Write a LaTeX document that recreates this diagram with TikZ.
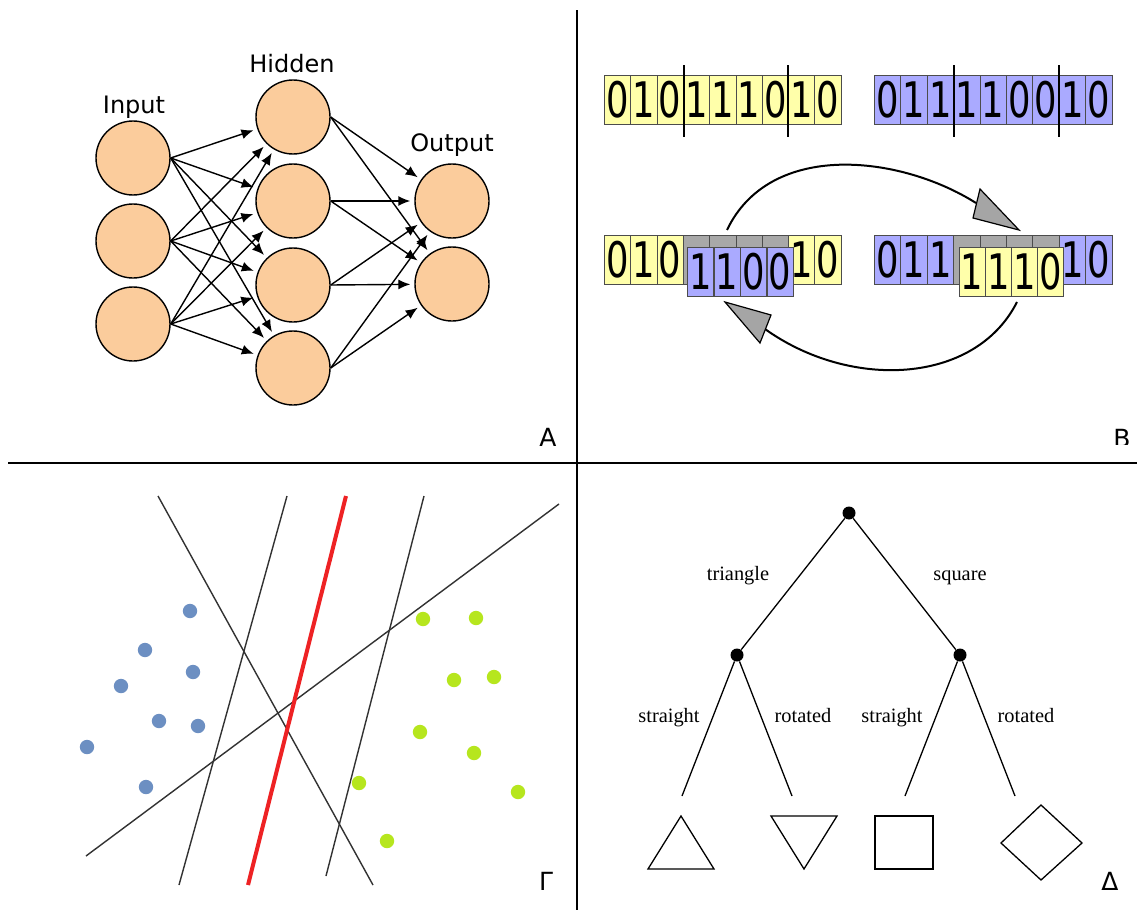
\documentclass[tikz,border=0pt]{standalone}
\usepackage{fontspec}
\setmainfont{DejaVu Sans}
\newfontfamily\serifD{Liberation Serif}
\newfontfamily\digitfont[FakeStretch=0.72]{DejaVu Sans}
\usetikzlibrary{arrows.meta}
\definecolor{peach}{RGB}{251,204,156}
\definecolor{cyellow}{RGB}{255,255,170}
\definecolor{cblue}{RGB}{170,170,255}
\definecolor{cgray}{RGB}{168,168,168}
\definecolor{headgray}{RGB}{165,165,165}
\definecolor{dotblue}{RGB}{108,143,194}
\definecolor{dotgreen}{RGB}{182,230,30}
\definecolor{svmred}{RGB}{238,34,36}
\definecolor{svmline}{RGB}{50,50,50}
\begin{document}
\begin{tikzpicture}[x=0.5pt,y=-0.5pt,
  divider/.style={line width=1pt,black},
  neuron/.style={circle,draw=black,line width=0.7pt,fill=peach,minimum size=37pt,inner sep=0pt},
  arr/.style={line width=0.7pt,-{Latex[length=6pt,width=5pt]},shorten >=2pt},
  layerlabel/.style={font=\fontsize{12}{14}\selectfont,anchor=base},
  panel/.style={font=\fontsize{12.5}{14}\selectfont,anchor=base},
  cell/.style={draw=black!70,line width=0.4pt,minimum width=13.15pt,minimum height=24.5pt,inner sep=0pt,anchor=north west,font=\fontsize{24.5}{24}\digitfont},
  cut/.style={line width=1pt,black},
  swaparc/.style={line width=1pt,black},
  head/.style={fill=headgray,draw=black,line width=0.6pt,line join=miter},
  svm/.style={line width=0.7pt,svmline},
  svmbold/.style={line width=2pt,svmred},
  tdot/.style={circle,fill=black,minimum size=6.5pt,inner sep=0pt},
  tree/.style={line width=0.65pt,black},
  treelabel/.style={font=\serifD\fontsize{10.2}{12}\selectfont,anchor=base},
  figure/.style={line width=0.65pt,black,line join=miter}]
\useasboundingbox (0,0) rectangle (1137,910);
\fill[white] (0,0) rectangle (1137,910);

% dividers
\draw[divider] (577,10) -- (577,910);
\draw[divider] (8,463) -- (1137,463);

% ---------- Panel A ----------
\node[neuron] (i1) at (133,158) {};
\node[neuron] (i2) at (133,241) {};
\node[neuron] (i3) at (133,324) {};
\node[neuron] (h1) at (293,117) {};
\node[neuron] (h2) at (293,201) {};
\node[neuron] (h3) at (293,285) {};
\node[neuron] (h4) at (293,368) {};
\node[neuron] (o1) at (452,201) {};
\node[neuron] (o2) at (452,284) {};
\foreach \a in {1,2,3}
  \foreach \b in {1,2,3,4}
    \draw[arr] (i\a.east) -- (h\b);
\foreach \a in {1,2,3,4}
  \foreach \b in {1,2}
    \draw[arr] (h\a.east) -- (o\b);
\node[layerlabel] (lin) at (134,113) {Input};
\node[layerlabel] (lhid) at (292,72) {Hidden};
\node[layerlabel] (lout) at (452,151) {Output};
\node[panel] (pa) at (548,446) {A};

% ---------- Panel B ----------
\foreach \d [count=\k from 0] in {0,1,0,1,1,1,0,1,0}
  \node[cell,fill=cyellow] (ya\k) at ({604+26.3*\k},75) {\d};
\foreach \d [count=\k from 0] in {0,1,1,1,1,0,0,1,0}
  \node[cell,fill=cblue] (ba\k) at ({874+26.4*\k},75) {\d};
\draw[cut] (683.5,65) -- (683.5,137);
\draw[cut] (788,65) -- (788,137);
\draw[cut] (953.5,65) -- (953.5,137);
\draw[cut] (1059,65) -- (1059,137);

% bottom left string
\foreach \d [count=\k from 0] in {0,1,0}
  \node[cell,fill=cyellow] (yb\k) at ({604+26.3*\k},235) {\d};
\foreach \k in {3,4,5,6}
  \node[cell,fill=cgray] (yb\k) at ({604+26.3*\k},235) {};
\foreach \d [count=\k from 7] in {1,0}
  \node[cell,fill=cyellow] (yb\k) at ({604+26.3*\k},235) {\d};
\foreach \d [count=\k from 0] in {1,1,0,0}
  \node[cell,fill=cblue] (yo\k) at ({687+26.5*\k},247) {\d};

% bottom right string
\foreach \d [count=\k from 0] in {0,1,1}
  \node[cell,fill=cblue] (bb\k) at ({874+26.4*\k},235) {\d};
\foreach \k in {3,4,5,6}
  \node[cell,fill=cgray] (bb\k) at ({874+26.4*\k},235) {};
\foreach \d [count=\k from 7] in {1,0}
  \node[cell,fill=cblue] (bb\k) at ({874+26.4*\k},235) {\d};
\foreach \d [count=\k from 0] in {1,1,1,0}
  \node[cell,fill=cyellow] (bo\k) at ({958.5+26.2*\k},247) {\d};

% swap arrows
\coordinate (ta) at (727,230);
\coordinate (tb) at (976,203);
\draw[swaparc] (ta) .. controls (770,140) and (900,155) .. (tb);
\filldraw[head] (980,189) -- (1019,230) -- (973,218) -- cycle;
\coordinate (ua) at (1017,302);
\coordinate (ub) at (765,329);
\draw[swaparc] (ua) .. controls (975,385) and (850,390) .. (ub);
\filldraw[head] (771,315) -- (725,302) -- (760,343) -- cycle;

\begin{scope}
\clip (1095,415) rectangle (1137,444.5);
\node[panel] (pb) at (1122,447) {B};
\end{scope}

% ---------- Panel Gamma ----------
\draw[svm] (158,496) -- (373,885);
\draw[svm] (287,496) -- (179,885);
\draw[svm] (424,496) -- (326,876);
\draw[svm] (559,504) -- (86,856);
\draw[svmbold] (346,496) -- (248,885);
\foreach \p in {(190,611),(145,650),(193,672),(121,686),(159,721),(198,726),(87,747),(146,787)}
  \fill[dotblue] \p circle (3.6pt);
\foreach \p in {(423,619),(476,618),(454,680),(494,677),(420,732),(474,753),(359,783),(518,792),(387,841)}
  \fill[dotgreen] \p circle (3.6pt);
\node[panel] (pg) at (546,890) {Γ};

% ---------- Panel Delta ----------
\node[tdot] (root) at (849,513) {};
\node[tdot] (tl) at (737,655) {};
\node[tdot] (tr) at (960,655) {};
\coordinate (e1) at (682,796);
\coordinate (e2) at (792,796);
\coordinate (e3) at (905,796);
\coordinate (e4) at (1015,796);
\draw[tree] (root) -- (tl);
\draw[tree] (root) -- (tr);
\draw[tree] (tl) -- (e1);
\draw[tree] (tl) -- (e2);
\draw[tree] (tr) -- (e3);
\draw[tree] (tr) -- (e4);
\node[treelabel] (lt1) at (738,580) {triangle};
\node[treelabel] (lt2) at (960,580) {square};
\node[treelabel] (lt3) at (669,722) {straight};
\node[treelabel] (lt4) at (803,722) {rotated};
\node[treelabel] (lt5) at (892,722) {straight};
\node[treelabel] (lt6) at (1026,722) {rotated};
\draw[figure] (648,869) -- (714,869) -- (681,816) -- cycle;
\draw[figure] (771,816) -- (837,816) -- (804,869) -- cycle;
\draw[figure] (875,816) rectangle (933,869);
\draw[figure] (1041,805) -- (1082,843) -- (1041,880) -- (1001,843) -- cycle;
\node[panel] (pd) at (1110,890) {Δ};
\end{tikzpicture}
\end{document}
